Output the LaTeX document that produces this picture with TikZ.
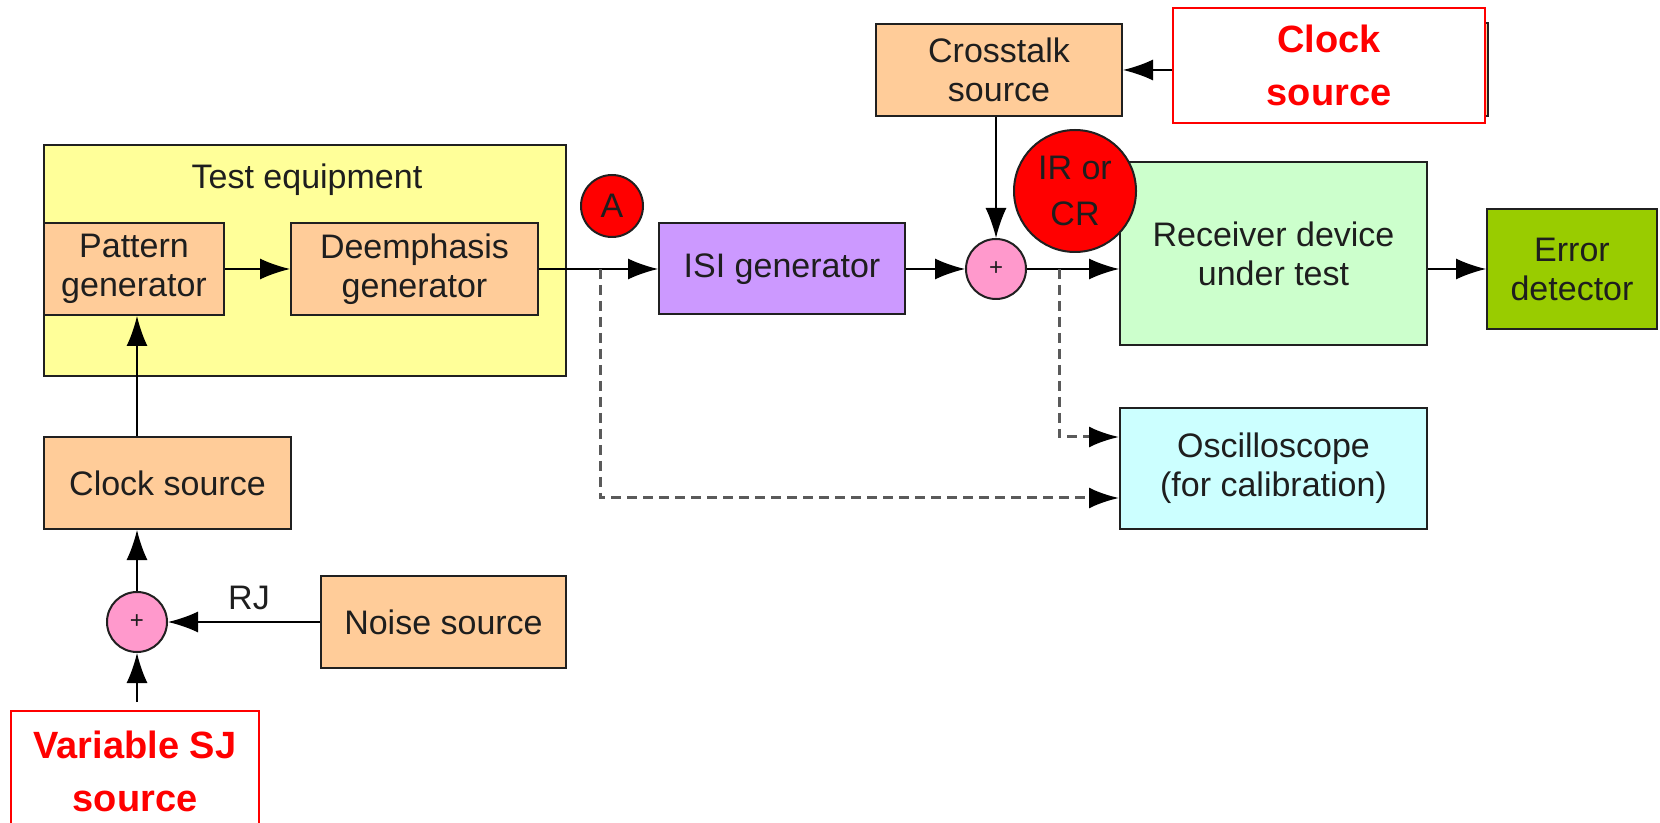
\documentclass[tikz,border=0pt]{standalone}
\usepackage{fontspec}
\setmainfont{Liberation Sans}
\usetikzlibrary{arrows.meta}
\definecolor{peach}{HTML}{FFCC99}
\definecolor{paleyellow}{HTML}{FFFF99}
\definecolor{lilac}{HTML}{CC99FF}
\definecolor{pinkish}{HTML}{FF99CC}
\definecolor{mint}{HTML}{CCFFCC}
\definecolor{aqua}{HTML}{CCFFFF}
\definecolor{olive}{HTML}{99CC00}
\definecolor{ink}{HTML}{1E1E1E}
\definecolor{edge}{HTML}{202020}
\definecolor{dashgray}{HTML}{5A5A5A}
\tikzset{
  blk/.style={draw=edge, line width=1pt, text=ink, align=center, inner sep=0pt,
    font=\fontsize{17}{19.5}\selectfont},
  redbox/.style={draw=red, line width=1pt, fill=white, text=red, align=center,
    inner sep=0pt, font=\fontsize{19}{26.5}\selectfont\bfseries},
  sumnode/.style={circle, draw=edge, line width=1pt, fill=pinkish, minimum size=30pt,
    inner sep=0pt, text=ink, font=\fontsize{12}{12}\selectfont},
  conn/.style={draw=black, line width=0.8pt, -{Latex[length=15pt,width=10.5pt]}},
  probe/.style={draw=dashgray, line width=1.5pt, dash pattern=on 5pt off 3pt,
    -{Latex[length=15pt,width=10.5pt,color=black]}},
  plain/.style={text=ink, inner sep=0pt, font=\fontsize{17}{19.5}\selectfont}
}
\begin{document}
\begin{tikzpicture}[x=0.5pt,y=-0.5pt]
\clip (0,0) rectangle (1660,823);
\fill[white] (0,0) rectangle (1660,823);

% test equipment enclosure and its two generators
\node[blk, fill=paleyellow, minimum width=261pt, minimum height=115.5pt] (te) at (305,260.5) {};
\node[plain] (telabel) at (307,180) {Test equipment};
\node[blk, fill=peach, minimum width=90pt, minimum height=46pt] (pg) at (134,269) {Pattern\\generator};
\node[blk, fill=peach, minimum width=123.5pt, minimum height=46pt] (dg) at (414.5,269) {Deemphasis\\generator};

% jitter sources
\node[blk, fill=peach, minimum width=123.5pt, minimum height=46pt] (cs) at (167.5,483) {Clock source};
\node[sumnode] (sum1) at (137,622) {+};
\node[blk, fill=peach, minimum width=122.5pt, minimum height=46pt] (noise) at (443.5,622) {Noise source};
\node[plain] (rj) at (249,598) {RJ};
\node[redbox, minimum width=124pt, minimum height=60pt] (sj) at (135,771) {Variable SJ\\source};
\coordinate (sjout) at (137,702);

% signal path
\node[circle, draw=edge, line width=1pt, fill=red, minimum size=31pt, inner sep=0pt,
  text=ink, font=\fontsize{17}{17}\selectfont] (ptA) at (612,206) {A};
\node[blk, fill=lilac, minimum width=123pt, minimum height=45.5pt] (isi) at (782,269) {ISI generator};
\node[sumnode] (sum2) at (996,269) {+};

% crosstalk and its clock
\node[blk, fill=peach, minimum width=119pt, minimum height=46.5pt] (hid) at (1369,70) {};
\node[blk, fill=peach, minimum width=123pt, minimum height=46pt] (xt) at (999,70) {Crosstalk\\source};
\node[redbox, minimum width=156pt, minimum height=57.5pt] (clk) at (1329,65.5) {Clock\\source};

% receiver side
\node[blk, fill=mint, minimum width=153.5pt, minimum height=91.5pt] (rx) at (1273.5,253.5) {Receiver device\\under test};
\node[circle, draw=edge, line width=1pt, fill=red, minimum size=61pt, inner sep=0pt,
  text=ink, align=center, font=\fontsize{17}{23}\selectfont] (ircr) at (1075,191) {IR or\\CR};
\node[blk, fill=olive, minimum width=85pt, minimum height=60pt] (ed) at (1572,269) {Error\\detector};
\node[blk, fill=aqua, minimum width=153.5pt, minimum height=60.5pt] (osc) at (1273.5,468.5) {Oscilloscope\\(for calibration)};

% connectors
\draw[conn] (pg.east) -- (dg.west);
\draw[conn] (cs.north -| sum1) -- (pg.south -| sum1);
\draw[conn] (sum1.north) -- (sum1 |- cs.south);
\draw[conn] (noise.west) -- (sum1.east);
\draw[conn] (sjout) -- (sum1.south);
\draw[conn] (dg.east) -- (isi.west);
\draw[conn] (isi.east) -- (sum2.west);
\draw[conn] (xt.south -| sum2) -- (sum2.north);
\draw[conn] (clk.west |- xt.east) -- (xt.east);
\draw[conn] (sum2.east) -- (sum2 -| rx.west);
\draw[conn] (rx.east |- ed.west) -- (ed.west);

% calibration probes
\coordinate (tap1) at (600,269);
\coordinate (tap2) at (1059,269);
\draw[probe] (tap1) |- ([yshift=-14.75pt]osc.west);
\draw[probe] (tap2) |- ([yshift=15.75pt]osc.west);
\end{tikzpicture}
\end{document}
